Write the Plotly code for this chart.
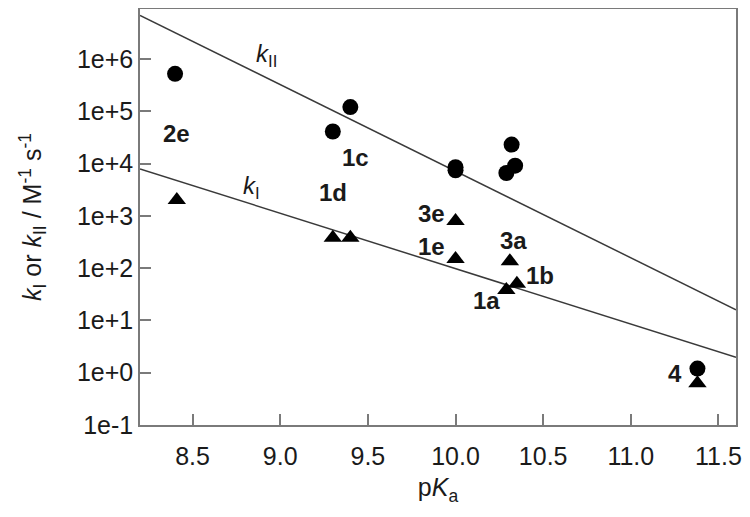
import plotly.graph_objects as go

# Data
pka_kII = [8.40, 9.30, 9.40, 10.00, 10.00, 10.32, 10.34, 10.29, 11.38]
kII = [5.2e5, 4.1e4, 1.2e5, 8.5e3, 7.4e3, 2.3e4, 9.1e3, 6.6e3, 1.2]

pka_kI = [8.41, 9.30, 9.40, 10.00, 10.00, 10.31, 10.35, 10.29, 11.38]
kI = [2.0e3, 380, 380, 800, 150, 136, 50, 38, 0.63]

fit_x = [8.2, 11.6]
fit_kII = [6.8e6, 16]
fit_kI = [7.9e3, 1.97]

x_ticks = [8.5, 9.0, 9.5, 10.0, 10.5, 11.0, 11.5]
x_tick_labels = ["8.5", "9.0", "9.5", "10.0", "10.5", "11.0", "11.5"]
y_ticks = [1e-1, 1e0, 1e1, 1e2, 1e3, 1e4, 1e5, 1e6]
y_tick_labels = ["1e-1", "1e+0", "1e+1", "1e+2", "1e+3", "1e+4", "1e+5", "1e+6"]

point_labels = ["2e", "1c", "1d", "3e", "1e", "3a", "1b", "1a", "4"]
label_x = [8.409, 9.432, 9.299, 9.864, 9.864, 10.328, 10.483, 10.178, 11.253]
label_logy = [4.57, 4.116, 3.454, 3.042, 2.405, 2.519, 1.865, 1.387, -0.011]

FONT = "Liberation Sans, Arial, sans-serif"
AXIS_COLOR = "#7a7a7a"
LINE_COLOR = "#3a3a3a"
TXT = "#1a1a1a"

fig = go.Figure()

fig.add_trace(go.Scatter(x=fit_x, y=fit_kII, mode="lines",
                         line=dict(color=LINE_COLOR, width=1.5), showlegend=False))
fig.add_trace(go.Scatter(x=fit_x, y=fit_kI, mode="lines",
                         line=dict(color=LINE_COLOR, width=1.5), showlegend=False))
fig.add_trace(go.Scatter(x=pka_kII, y=kII, mode="markers",
                         marker=dict(symbol="circle", size=16, color="black"),
                         showlegend=False))
fig.add_trace(go.Scatter(x=pka_kI, y=kI, mode="markers",
                         marker=dict(symbol="triangle-up", size=16, color="black"),
                         showlegend=False))

for t, x, ly in zip(point_labels, label_x, label_logy):
    fig.add_annotation(x=x, y=ly, text="<b>" + t + "</b>", showarrow=False,
                       font=dict(family=FONT, size=24, color=TXT))

fig.add_annotation(x=8.922, y=6.063, text="<i>k</i><sub>II</sub>", showarrow=False,
                   font=dict(family=FONT, size=24, color=TXT))
fig.add_annotation(x=8.837, y=3.55, text="<i>k</i><sub>I</sub>", showarrow=False,
                   font=dict(family=FONT, size=24, color=TXT))

fig.update_xaxes(range=[8.2, 11.6], tickvals=x_ticks, ticktext=x_tick_labels,
                 ticks="inside", ticklen=11, tickwidth=1.5, tickcolor=AXIS_COLOR,
                 ticklabelstandoff=8,
                 showline=True, linecolor=AXIS_COLOR, linewidth=1.5, mirror=True,
                 showgrid=False, zeroline=False,
                 tickfont=dict(family=FONT, size=25, color=TXT),
                 title=dict(text="p<i>K</i><sub>a</sub>", standoff=10,
                            font=dict(family=FONT, size=25, color=TXT)))
fig.update_yaxes(type="log", range=[-1, 6.955], tickvals=y_ticks, ticktext=y_tick_labels,
                 ticks="inside", ticklen=11, tickwidth=1.5, tickcolor=AXIS_COLOR,
                 showline=True, linecolor=AXIS_COLOR, linewidth=1.5, mirror=True,
                 showgrid=False, zeroline=False,
                 tickfont=dict(family=FONT, size=25, color=TXT),
                 title=dict(text="<i>k</i><sub>I</sub> or <i>k</i><sub>II</sub> / M<sup>-1</sup> s<sup>-1</sup>",
                            standoff=28,
                            font=dict(family=FONT, size=25, color=TXT)))

# page body has an 8px margin, so the figure is sized/offset to compensate
fig.update_layout(width=734, height=501, margin=dict(l=132, r=6, t=1, b=84, autoexpand=False),
                  plot_bgcolor="white", paper_bgcolor="white",
                  font=dict(family=FONT))

fig.write_html("out.html")
